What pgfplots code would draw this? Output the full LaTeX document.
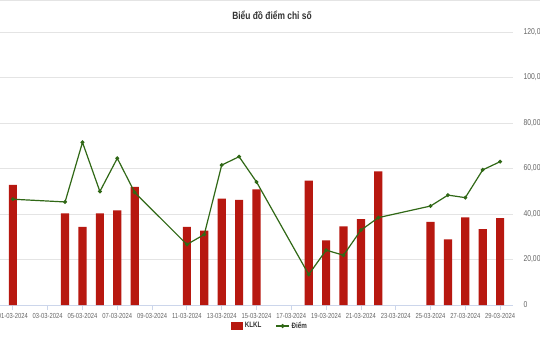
\documentclass[border=0pt]{standalone}
\usepackage{fontspec}
\setmainfont{Liberation Sans}[FakeStretch=0.8]
\usepackage{pgfplots}
\pgfplotsset{compat=1.18}
\definecolor{barred}{RGB}{183,24,16}
\definecolor{lineg}{RGB}{48,104,22}
\definecolor{gridc}{RGB}{228,228,228}
\definecolor{axisc}{RGB}{204,214,235}
\definecolor{labc}{RGB}{102,102,102}
\definecolor{titc}{RGB}{51,51,51}
\begin{document}
\begin{tikzpicture}
\useasboundingbox (0,0) rectangle (540pt,360pt);
\clip (0,0) rectangle (540pt,360pt);
\fill[white] (0,0) rectangle (540pt,360pt);
\draw[gridc, line width=0.8pt] (0,359.5pt) -- (540pt,359.5pt);
\node[titc, font=\fontsize{10.5}{12}\selectfont\bfseries] at (272pt,345pt) {Biểu đồ điểm chỉ số};
\begin{axis}[
  at={(0pt,55pt)}, anchor=south west,
  scale only axis, width=513pt, height=273pt,
  xmin=-0.74, xmax=28.74, ymin=0, ymax=120,
  axis x line*=bottom, axis y line*=right,
  x axis line style={-, axisc, line width=0.8pt},
  y axis line style={draw=none},
  xtick={0,2,...,28},
  xticklabels={01-03-2024,03-03-2024,05-03-2024,07-03-2024,09-03-2024,11-03-2024,13-03-2024,15-03-2024,17-03-2024,19-03-2024,21-03-2024,23-03-2024,25-03-2024,27-03-2024,29-03-2024},
  ytick={0,20,40,60,80,100,120},
  yticklabels={0,{20,00},{40,00},{60,00},{80,00},{100,00},{120,00}},
  major tick length=5pt, tick align=outside,
  xtick style={axisc, line width=0.8pt},
  ytick style={draw=none},
  ymajorgrids, grid style={gridc, line width=0.8pt},
  xticklabel style={labc, font=\fontsize{7.3}{8}\selectfont},
  yticklabel style={labc, font=\fontsize{8.5}{9}\selectfont, anchor=west, xshift=2pt},
  legend style={at={(0.526,-0.077)}, anchor=center, draw=none, fill=none,
    legend columns=2, font=\fontsize{7.8}{9}\selectfont\bfseries, text=titc,
    /tikz/every even column/.append style={column sep=12pt}},
]
\addplot[ybar, bar width=0.47, fill=barred, draw=none,
  legend image code/.code={\fill[barred] (0pt,-4pt) rectangle (12pt,4pt);}]
coordinates {
(0,52.8) (3,40.3) (4,34.3) (5,40.3) (6,41.6) (7,51.9)
(10,34.3) (11,32.7) (12,46.8) (13,46.2) (14,50.8)
(17,54.7) (18,28.4) (19,34.6) (20,37.7) (21,58.7)
(24,36.5) (25,28.8) (26,38.5) (27,33.4) (28,38.2)
};
\addplot[lineg, line width=1.2pt, mark=*, mark size=1.3pt, mark options={fill=lineg, draw=lineg},
  legend image code/.code={\draw[lineg, line width=1.2pt] (0pt,0pt) -- (13pt,0pt); \fill[lineg] (6.5pt,0pt) circle (1.4pt);}]
coordinates {
(0,46.5) (3,45.3) (4,71.5) (5,49.9) (6,64.5) (7,49.5)
(10,26.6) (11,31.0) (12,61.5) (13,65.2) (14,54.1)
(17,13.4) (18,24.1) (19,21.9) (20,32.9) (21,38.4)
(24,43.5) (25,48.3) (26,47.2) (27,59.4) (28,63.0)
};
\legend{KLKL, Điểm}
\end{axis}
\end{tikzpicture}
\end{document}
